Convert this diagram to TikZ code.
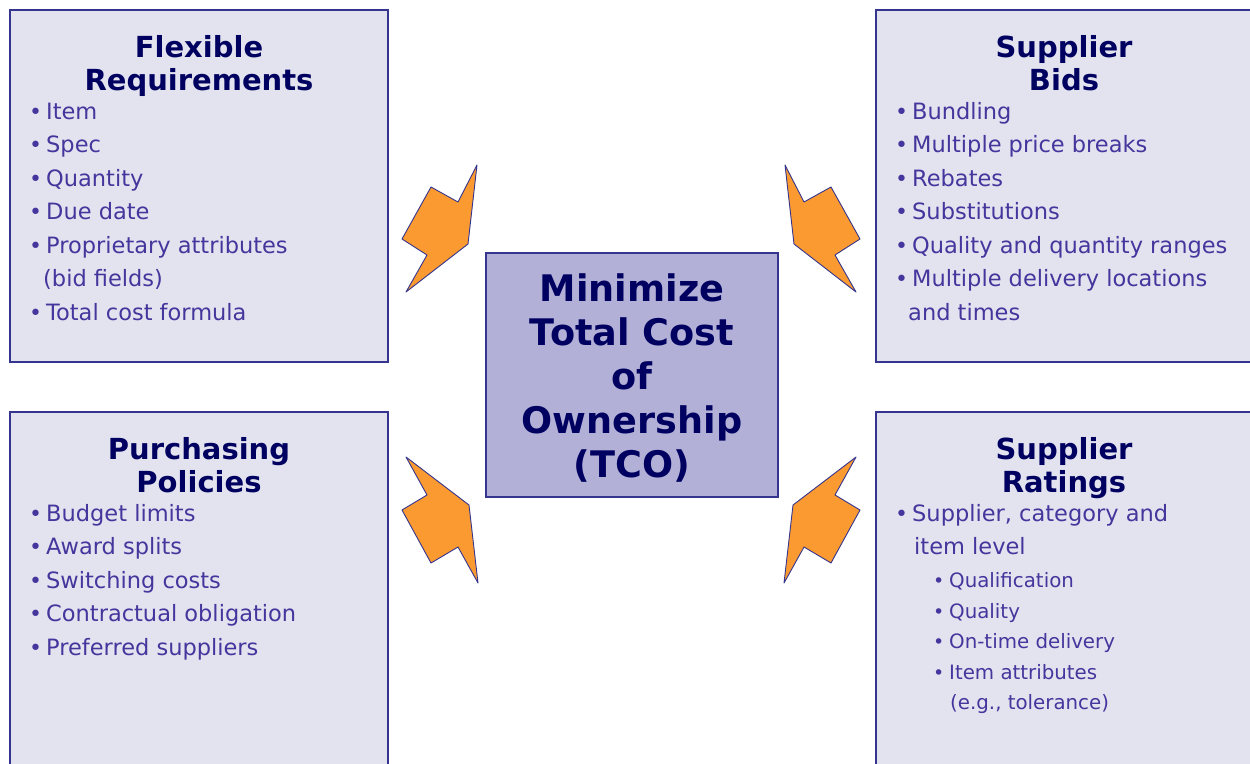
\documentclass[tikz,border=0pt]{standalone}
\usepackage{fontspec}
\setmainfont{DejaVu Sans}
\definecolor{edge}{HTML}{35358F}
\definecolor{panelfill}{HTML}{E3E3F0}
\definecolor{corefill}{HTML}{B3B0D8}
\definecolor{boltfill}{HTML}{FA9A30}
\definecolor{headc}{HTML}{000060}
\definecolor{itemc}{HTML}{43369C}
% bullet hung to the left of the item text
\newcommand\bul{\llap{\fontsize{22}{22}\selectfont •\hspace{4pt}}}
\newcommand\subbul{\llap{\fontsize{19}{19}\selectfont •\hspace{5pt}}}
\begin{document}
\begin{tikzpicture}[x=1pt,y=-1pt,
  panel/.style={draw=edge,fill=panelfill,line width=1.3pt},
  core/.style={draw=edge,fill=corefill,line width=1.3pt},
  bolt/.style={draw=edge,fill=boltfill,line width=0.9pt,line join=round},
  head/.style={anchor=base,inner sep=0pt,text=headc,font=\fontsize{29}{33}\selectfont\bfseries},
  coreline/.style={anchor=base,inner sep=0pt,text=headc,font=\fontsize{36.6}{44}\selectfont\bfseries},
  item/.style={anchor=base west,inner sep=0pt,text=itemc,font=\fontsize{22.5}{33}\selectfont},
  subitem/.style={anchor=base west,inner sep=0pt,text=itemc,font=\fontsize{19.8}{30}\selectfont}]
\useasboundingbox (0,0) rectangle (1250,763);
\fill[white] (0,0) rectangle (1250,763);

% four panels and the central goal
\draw[panel] (10,10) rectangle (388,362);
\draw[panel] (876,10) rectangle (1256,362);
\draw[panel] (10,412) rectangle (388,770);
\draw[panel] (876,412) rectangle (1256,770);
\draw[core] (486,253) rectangle (778,497);

% lightning bolts pointing at the centre
\draw[bolt] (477,165) -- (458,202) -- (431,187) -- (402,239) -- (427,255) -- (406,292) -- (468,244) -- cycle;
\draw[bolt] (785,165) -- (804,202) -- (831,187) -- (860,239) -- (835,255) -- (856,292) -- (794,244) -- cycle;
\draw[bolt] (406,457) -- (427,495) -- (402,510) -- (431,563) -- (458,547) -- (478,583) -- (469,505) -- cycle;
\draw[bolt] (856,457) -- (835,495) -- (860,510) -- (831,563) -- (804,547) -- (784,583) -- (793,505) -- cycle;

% centre text
\node[coreline] (c1) at (632,301) {Minimize};
\node[coreline] (c2) at (632,345) {Total Cost};
\node[coreline] (c3) at (632,389) {of};
\node[coreline] (c4) at (632,433) {Ownership};
\node[coreline] (c5) at (632,477) {(TCO)};

% flexible requirements
\node[head] (fr1) at (199,57) {Flexible};
\node[head] (fr2) at (199,90) {Requirements};
\node[item] (fri1) at (46,119)   {\bul Item};
\node[item] (fri2) at (46,152.5) {\bul Spec};
\node[item] (fri3) at (46,186)   {\bul Quantity};
\node[item] (fri4) at (46,219.5) {\bul Due date};
\node[item] (fri5) at (46,253)   {\bul Proprietary attributes};
\node[item] (fri6) at (43,286.5) {(bid fields)};
\node[item] (fri7) at (46,320)   {\bul Total cost formula};

% supplier bids
\node[head] (sb1) at (1064,57) {Supplier};
\node[head] (sb2) at (1064,90) {Bids};
\node[item] (sbi1) at (912,119)   {\bul Bundling};
\node[item] (sbi2) at (912,152.5) {\bul Multiple price breaks};
\node[item] (sbi3) at (912,186)   {\bul Rebates};
\node[item] (sbi4) at (912,219.5) {\bul Substitutions};
\node[item] (sbi5) at (912,253)   {\bul Quality and quantity ranges};
\node[item] (sbi6) at (912,286.5) {\bul Multiple delivery locations};
\node[item] (sbi7) at (908,320)   {and times};

% purchasing policies
\node[head] (pp1) at (199,459) {Purchasing};
\node[head] (pp2) at (199,492) {Policies};
\node[item] (ppi1) at (46,521)   {\bul Budget limits};
\node[item] (ppi2) at (46,554.5) {\bul Award splits};
\node[item] (ppi3) at (46,588)   {\bul Switching costs};
\node[item] (ppi4) at (46,621.5) {\bul Contractual obligation};
\node[item] (ppi5) at (46,655)   {\bul Preferred suppliers};

% supplier ratings
\node[head] (sr1) at (1064,459) {Supplier};
\node[head] (sr2) at (1064,492) {Ratings};
\node[item] (sri1) at (912,521)   {\bul Supplier, category and};
\node[item] (sri2) at (914,554.5) {item level};
\node[subitem] (srs1) at (949,587.5) {\subbul Qualification};
\node[subitem] (srs2) at (949,618)   {\subbul Quality};
\node[subitem] (srs3) at (949,648.5) {\subbul On-time delivery};
\node[subitem] (srs4) at (949,679)   {\subbul Item attributes};
\node[subitem] (srs5) at (950,709.5) {(e.g., tolerance)};
\end{tikzpicture}
\end{document}
